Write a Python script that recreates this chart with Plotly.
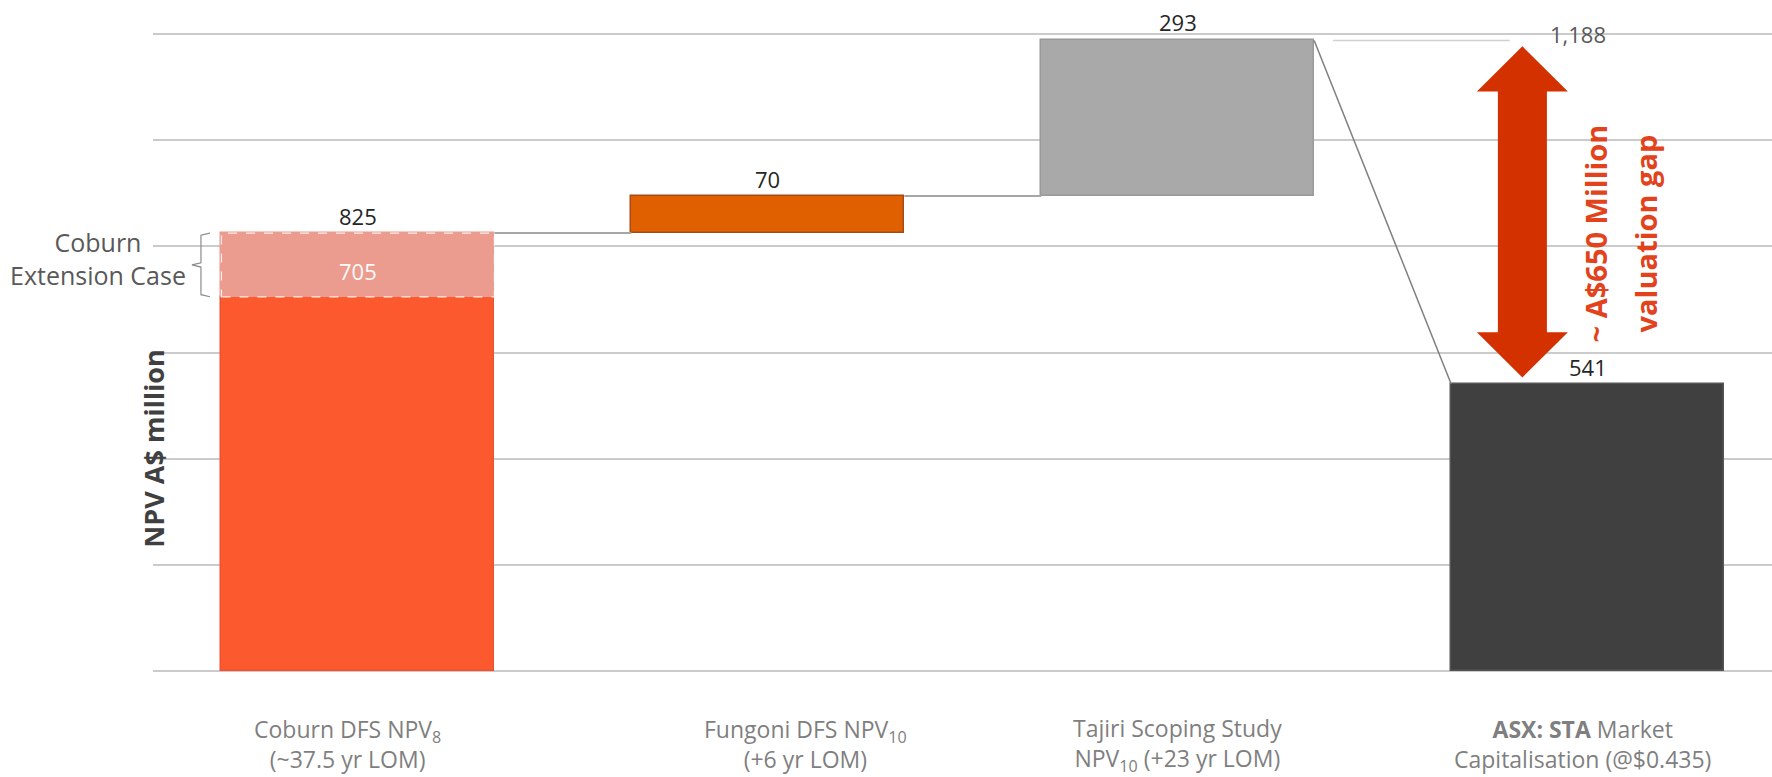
import plotly.graph_objects as go

# ---- data ----
categories_line1 = ["Coburn DFS NPV<sub>8</sub>", "Fungoni DFS NPV<sub>10</sub>",
                    "Tajiri Scoping Study", "<b>ASX: STA</b> Market"]
categories_line2 = ["(~37.5 yr LOM)", "(+6 yr LOM)",
                    "NPV<sub>10</sub> (+23 yr LOM)", "Capitalisation (@$0.435)"]
coburn_base = 705          # Coburn DFS NPV8
coburn_ext_total = 825     # Coburn extension case
fungoni = 70
tajiri = 293
total = 1188
market_cap = 541
y_ticks = [0, 200, 400, 600, 800, 1000, 1200]

FONT = "Open Sans"
W = 0.666
pos = [0, 1, 2, 3]

fig = go.Figure()

def add_bar(x, base, h, color, line_color):
    fig.add_trace(go.Bar(x=[x], y=[h], base=[base], width=W,
                         marker=dict(color=color, line=dict(color=line_color, width=1.5)),
                         showlegend=False, hoverinfo="skip"))

# Coburn base + extension
add_bar(pos[0], 0, coburn_base, "#FC5A2E", "#F05030")
add_bar(pos[0], coburn_base, coburn_ext_total - coburn_base, "#EC9C8E", "#EC9C8E")
# Fungoni
add_bar(pos[1], coburn_ext_total, fungoni, "#E06000", "#A84A18")
# Tajiri
tajiri_base = coburn_ext_total + fungoni
add_bar(pos[2], tajiri_base, tajiri, "#A9A9A9", "#9A9A9A")
# Market cap
add_bar(pos[3], 0, market_cap, "#404040", "#555555")

shapes = []
# dashed outline on extension region
shapes.append(dict(type="rect", xref="x", yref="y", x0=pos[0] - W / 2, x1=pos[0] + W / 2,
                   y0=coburn_base, y1=coburn_ext_total,
                   line=dict(color="rgba(255,255,255,0.85)", width=1.2, dash="dash")))
# connectors
conn = dict(color="#A6A6A6", width=2)
shapes.append(dict(type="line", xref="x", yref="y", x0=pos[0] + W / 2, x1=pos[1] - W / 2,
                   y0=coburn_ext_total, y1=coburn_ext_total, line=conn))
shapes.append(dict(type="line", xref="x", yref="y", x0=pos[1] + W / 2, x1=pos[2] - W / 2,
                   y0=tajiri_base, y1=tajiri_base, line=conn))
shapes.append(dict(type="line", xref="x", yref="y", x0=pos[2] + W / 2, x1=pos[3] - W / 2,
                   y0=total, y1=market_cap, line=dict(color="#7F7F7F", width=1.5)))
shapes.append(dict(type="line", xref="x", yref="y", x0=2.379, x1=2.81,
                   y0=total, y1=total, line=dict(color="#D0D0D0", width=1.5)))

# bracket for Coburn extension case
bx_tip, bx_mid, bx_end = -0.405, -0.383, -0.361
ym = (coburn_base + coburn_ext_total) / 2
br = (f"M {bx_end},{coburn_ext_total} L {bx_mid},{coburn_ext_total - 4} "
      f"L {bx_mid},{ym + 4} L {bx_tip},{ym} L {bx_mid},{ym - 4} "
      f"L {bx_mid},{coburn_base + 4} L {bx_end},{coburn_base}")
shapes.append(dict(type="path", xref="x", yref="y", path=br,
                   line=dict(color="#8C8C8C", width=1.2)))

# double arrow (valuation gap)
cx, sw, hw, hh = 2.841, 0.0598, 0.111, 85
top, bot = total - 11, market_cap + 12
ap = (f"M {cx},{top} L {cx + hw},{top - hh} L {cx + sw},{top - hh} L {cx + sw},{bot + hh} "
      f"L {cx + hw},{bot + hh} L {cx},{bot} L {cx - hw},{bot + hh} L {cx - sw},{bot + hh} "
      f"L {cx - sw},{top - hh} L {cx - hw},{top - hh} Z")
shapes.append(dict(type="path", xref="x", yref="y", path=ap,
                   fillcolor="#D43100", line=dict(color="#D43100", width=0)))

ann = []
def lab(x, y, text, size=22, color="#262626", **kw):
    d = dict(x=x, y=y, xref="x", yref="y", text=text, showarrow=False,
             font=dict(family=FONT, size=size, color=color))
    d.update(kw)
    ann.append(d)

lab(pos[0], coburn_ext_total, f"{coburn_ext_total:,}", yanchor="bottom", yshift=0)
lab(pos[0], (coburn_base + coburn_ext_total) / 2, f"{coburn_base:,}", color="#FAFAFA", yshift=-6)
lab(pos[1], coburn_ext_total + fungoni, f"{fungoni:,}", yanchor="bottom", yshift=0)
lab(pos[2], total, f"{tajiri:,}", yanchor="bottom", yshift=1)
lab(3.0, total, f"{total:,}", color="#595959", yanchor="middle", xshift=-10, yshift=6)
lab(pos[3], market_cap, f"{market_cap:,}", yanchor="bottom", yshift=0)

# "Coburn Extension Case" (centred two-line label left of the bracket)
ann.append(dict(x=-0.034, y=777, xref="paper", yref="y", text="Coburn<br>Extension Case",
                showarrow=False, xanchor="center", yanchor="middle", align="center",
                font=dict(family=FONT, size=25, color="#595959")))

lab(3.020, 824, "<b>~ A$650 Million</b>", size=29, color="#E2431C", textangle=-90)
lab(3.142, 824, "<b>valuation gap</b>", size=29, color="#E2431C", textangle=-90)

# y-axis title
ann.append(dict(x=0, y=0.35, xref="paper", yref="paper", xanchor="center", yanchor="middle",
                xshift=1, text="<b>NPV A$ million</b>",
                textangle=-90, showarrow=False, font=dict(family=FONT, size=27, color="#404040")))

# category labels (two lines each)
shifts = [-10, 38, 0, -5]
for i, (l1, l2) in enumerate(zip(categories_line1, categories_line2)):
    ann.append(dict(x=pos[i], y=-0.111, xref="x", yref="paper", xshift=shifts[i],
                    text=f"{l1}<br>{l2}", align="center",
                    showarrow=False, yanchor="middle",
                    font=dict(family=FONT, size=23, color="#7F7F7F")))

fig.update_layout(
    width=1772, height=777,
    margin=dict(l=153, r=0, t=32, b=104),
    paper_bgcolor="white", plot_bgcolor="white",
    barmode="overlay", bargap=0,
    shapes=shapes, annotations=ann,
    showlegend=False,
    xaxis=dict(range=[-0.5, 3.45], showticklabels=False, showgrid=False, zeroline=False,
               showline=False, ticks=""),
    yaxis=dict(range=[-4, 1204], tickvals=y_ticks, showticklabels=False, showgrid=True,
               gridcolor="#CBCBCB", gridwidth=2, zeroline=True, zerolinecolor="#CBCBCB",
               zerolinewidth=2, showline=False, ticks=""),
)

fig.write_html("out.html", config={"displayModeBar": False},
               post_script="document.body.style.margin='0px';document.body.style.overflow='hidden';")
